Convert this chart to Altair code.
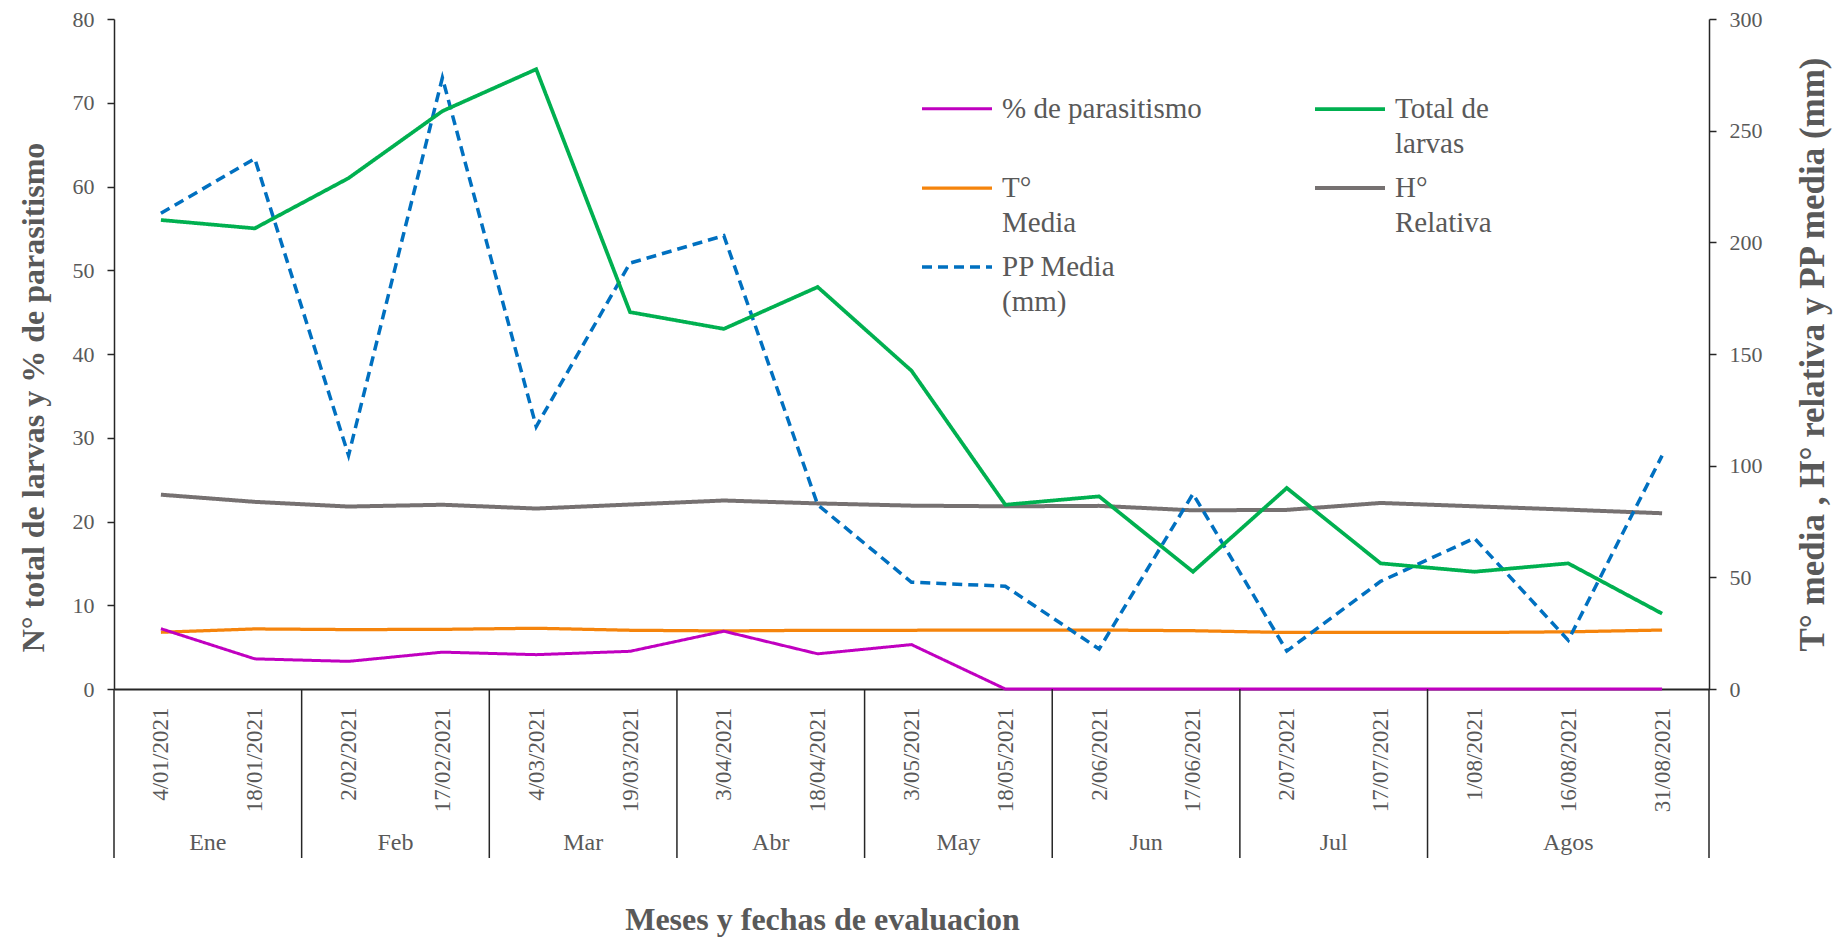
import json
import altair as alt
import pandas as pd

# ---------------- data ----------------
dates = ["4/01/2021", "18/01/2021", "2/02/2021", "17/02/2021", "4/03/2021",
         "19/03/2021", "3/04/2021", "18/04/2021", "3/05/2021", "18/05/2021",
         "2/06/2021", "17/06/2021", "2/07/2021", "17/07/2021", "1/08/2021",
         "16/08/2021", "31/08/2021"]
month_names = ["Ene", "Feb", "Mar", "Abr", "May", "Jun", "Jul", "Agos"]
month_counts = [2, 2, 2, 2, 2, 2, 2, 3]

parasitismo = [7.2, 3.6, 3.3, 4.4, 4.1, 4.5, 6.9, 4.2, 5.3, 0, 0, 0, 0, 0, 0, 0, 0]
total_larvas = [56, 55, 61, 69, 74, 45, 43, 48, 38, 22, 23, 14, 24, 15, 14, 15, 9]
t_media = [25.4, 26.9, 26.6, 26.7, 27.2, 26.3, 26.0, 26.3, 26.3, 26.4, 26.4, 26.1,
           25.3, 25.3, 25.3, 25.6, 26.4]
h_relativa = [87.0, 83.8, 81.7, 82.5, 80.8, 82.6, 84.4, 83.1, 82.1, 81.8, 82.0, 80.0,
              80.2, 83.3, 81.8, 80.3, 78.7]
pp_media = [213, 237.5, 104.6, 273.7, 117.5, 190.7, 203, 82.5, 47.8, 46, 17.9, 87.4,
            17, 48.2, 67.5, 21.8, 104.5]

series = ["% de parasitismo", "Total de larvas", "T° Media", "H° Relativa", "PP Media (mm)"]
legend_lines = [["% de parasitismo", ""], ["Total de", "larvas"], ["T°", "Media"],
                ["H°", "Relativa"], ["PP Media", "(mm)"]]
colors = ["#C000C0", "#00B050", "#F5840C", "#767171", "#0070C0"]
dashes = [[1, 0], [1, 0], [1, 0], [1, 0], [10, 6]]
widths = [3, 3, 4, 4, 3.5]
# legend fills column by column: this order gives rows (par, total), (T, H), (PP)
legend_order = [0, 2, 4, 1, 3]

left_ticks = [0, 10, 20, 30, 40, 50, 60, 70, 80]
right_ticks = [0, 50, 100, 150, 200, 250, 300]

# ---------------- tables ----------------
rows = []
for name, vals, side in [
    (series[0], parasitismo, "L"), (series[1], total_larvas, "L"),
    (series[2], t_media, "R"), (series[3], h_relativa, "R"), (series[4], pp_media, "R")]:
    for i, v in enumerate(vals):
        rows.append({"idx": i, "fecha": dates[i], "serie": name, "valor": v, "eje": side})
df = pd.DataFrame(rows)

bounds = [-0.5]
centers = []
acc = 0
for c in month_counts:
    centers.append(acc + (c - 1) / 2)
    acc += c
    bounds.append(acc - 0.5)
df_sep = pd.DataFrame({"idx": bounds})
df_mon = pd.DataFrame({"idx": centers, "mes": month_names})

W, H = 1595, 670
FONT = "Liberation Serif"
GRAY = "#595959"
DARK = "#262626"

dom = [series[k] for k in legend_order]
col_rng = [colors[k] for k in legend_order]
dash_rng = [dashes[k] for k in legend_order]
w_rng = [widths[k] for k in legend_order]

date_expr = json.dumps(dates) + "[datum.value]"
legend_expr = (json.dumps(legend_lines, ensure_ascii=False) + "[indexof("
               + json.dumps(series, ensure_ascii=False) + ", datum.label)]")

X = alt.X(
    "idx:Q",
    scale=alt.Scale(domain=[-0.5, len(dates) - 0.5], nice=False, zero=False),
    axis=alt.Axis(
        values=list(range(len(dates))), labelExpr=date_expr, labelAngle=270,
        labelAlign="right", labelBaseline="middle", labelPadding=18,
        labelFont=FONT, labelFontSize=23, labelColor=GRAY, labelOverlap=False,
        ticks=False, grid=False, domainColor=DARK, domainWidth=2,
        title="Meses y fechas de evaluacion", titleFont=FONT, titleFontSize=32,
        titleFontWeight="bold", titleColor=GRAY, titleX=708, titleY=240,
        titleAlign="center", titleBaseline="alphabetic",
    ),
)

# line symbol drawn 1.4x wider than its nominal box so entries stay compact
leg = alt.Legend(
    title=None, orient="none", legendX=816, legendY=63, columns=2,
    columnPadding=105, rowPadding=2, symbolType="M-1.4,0H1.4", symbolSize=2500,
    symbolStrokeWidth=3.5, labelFont=FONT, labelFontSize=29, labelColor=GRAY,
    labelOffset=18, labelExpr=legend_expr, labelLimit=400,
)

color = alt.Color("serie:N", scale=alt.Scale(domain=dom, range=col_rng), legend=leg)
dash = alt.StrokeDash("serie:N", scale=alt.Scale(domain=dom, range=dash_rng), legend=leg)
swidth = alt.StrokeWidth("serie:N", scale=alt.Scale(domain=dom, range=w_rng), legend=leg)


def yaxis(orient, ticks, title, tx, ty, fs):
    return alt.Axis(
        orient=orient, values=ticks, grid=False, labelFont=FONT, labelFontSize=22,
        labelColor=GRAY, labelPadding=13, tickSize=7, tickColor=DARK, tickWidth=1.5,
        domainColor=DARK, domainWidth=1.5, title=title, titleFont=FONT,
        titleFontSize=fs, titleFontWeight="bold", titleColor=GRAY, titleAngle=270,
        titleX=tx, titleY=ty, titleAlign="center", titleBaseline="middle",
    )


left = alt.Chart(df).transform_filter(alt.datum.eje == "L").mark_line().encode(
    x=X,
    y=alt.Y("valor:Q", scale=alt.Scale(domain=[0, 80], nice=False),
            axis=yaxis("left", left_ticks, "N° total de larvas  y % de parasitismo", -81, 378, 32)),
    color=color, strokeDash=dash, strokeWidth=swidth, detail="serie:N",
)

right = alt.Chart(df).transform_filter(alt.datum.eje == "R").mark_line().encode(
    x=X,
    y=alt.Y("valor:Q", scale=alt.Scale(domain=[0, 300], nice=False),
            axis=yaxis("right", right_ticks, "T° media , H° relativa y PP media (mm)", 103, H / 2, 35)),
    color=color, strokeDash=dash, strokeWidth=swidth, detail="serie:N",
)

seps = alt.Chart(df_sep).mark_rule(color=DARK, strokeWidth=1.5).encode(
    x=X, y=alt.value(H), y2=alt.value(H + 169),
)

months = alt.Chart(df_mon).mark_text(font=FONT, fontSize=24, color=GRAY, baseline="middle").encode(
    x=X, y=alt.value(H + 154), text="mes:N",
)

chart = alt.layer(right, left, seps, months).resolve_scale(y="independent").properties(
    width=W, height=H,
    autosize=alt.AutoSizeParams(type="none"),
    padding={"left": 106, "top": 11, "right": 124, "bottom": 249},
).configure(style={"guide-label": {"lineHeight": 35}}).configure_view(stroke=None)

chart.save("out.html", embed_options={"renderer": "svg", "actions": False})
